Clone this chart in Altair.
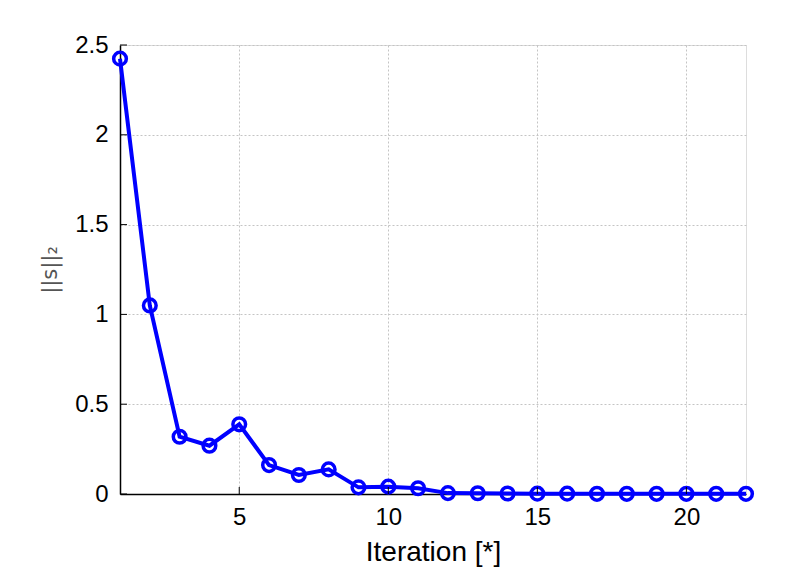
import altair as alt
import pandas as pd

iterations = list(range(1, 23))
s_norm = [2.424, 1.05, 0.319, 0.269, 0.388, 0.161, 0.106, 0.137, 0.037, 0.041,
          0.032, 0.005, 0.004, 0.003, 0.002, 0.002, 0.001, 0.001, 0.001, 0.001,
          0.001, 0.001]
x_ticks = [5, 10, 15, 20]
y_ticks = [0, 0.5, 1, 1.5, 2, 2.5]

df = pd.DataFrame({"it": iterations, "s": s_norm})
W, H = 626, 449

xscale = alt.Scale(domain=[1, 22], nice=False, zero=False)
yscale = alt.Scale(domain=[0, 2.5], nice=False)

xaxis = alt.Axis(values=x_ticks, title="Iteration [*]", grid=True, gridColor="#c4c4c4",
                 gridDash=[2, 2], gridWidth=1, ticks=False, domainColor="black",
                 domainWidth=1.5, labelFont="Liberation Sans", labelFontSize=24,
                 labelColor="black", labelPadding=11, titleFont="Liberation Sans",
                 titleFontSize=28, titleFontWeight="normal", titleColor="black",
                 titleY=58, titleBaseline="middle")
yaxis = alt.Axis(values=y_ticks, format="~g", title="||s||₂", grid=True, gridColor="#c4c4c4",
                 gridDash=[2, 2], gridWidth=1, ticks=False, domainColor="black",
                 domainWidth=1.5, labelFont="Liberation Sans", labelFontSize=24,
                 labelColor="black", labelPadding=12, titleFont="DejaVu Sans",
                 titleFontSize=21, titleFontWeight="normal", titleColor="#555555",
                 titleX=-70, titleY=H / 2, titleAngle=270, titleBaseline="middle",
                 titleAlign="center")

base = alt.Chart(df)
line = base.mark_line(color="#0000FF", strokeWidth=4).encode(
    x=alt.X("it:Q", scale=xscale, axis=xaxis),
    y=alt.Y("s:Q", scale=yscale, axis=yaxis),
)
pts = base.mark_point(shape="circle", filled=False, color="#0000FF", size=160,
                      strokeWidth=3.5, opacity=1).encode(
    x=alt.X("it:Q", scale=xscale),
    y=alt.Y("s:Q", scale=yscale),
)

xt = alt.Chart(pd.DataFrame({"t": x_ticks})).mark_rule(color="black", strokeWidth=1).encode(
    x=alt.X("t:Q", scale=xscale), y=alt.value(H), y2=alt.value(H - 7))
yt = alt.Chart(pd.DataFrame({"t": y_ticks})).mark_rule(color="black", strokeWidth=1).encode(
    y=alt.Y("t:Q", scale=yscale), x=alt.value(0), x2=alt.value(7))

chart = alt.layer(line, pts, xt, yt).properties(
    width=W, height=H,
    autosize=alt.AutoSizeParams(type="none"),
    padding={"left": 112, "top": 37, "right": 46, "bottom": 77},
).configure_view(stroke=None).configure(background="white")

chart.save("out.html", embed_options={"renderer": "svg", "actions": False})
